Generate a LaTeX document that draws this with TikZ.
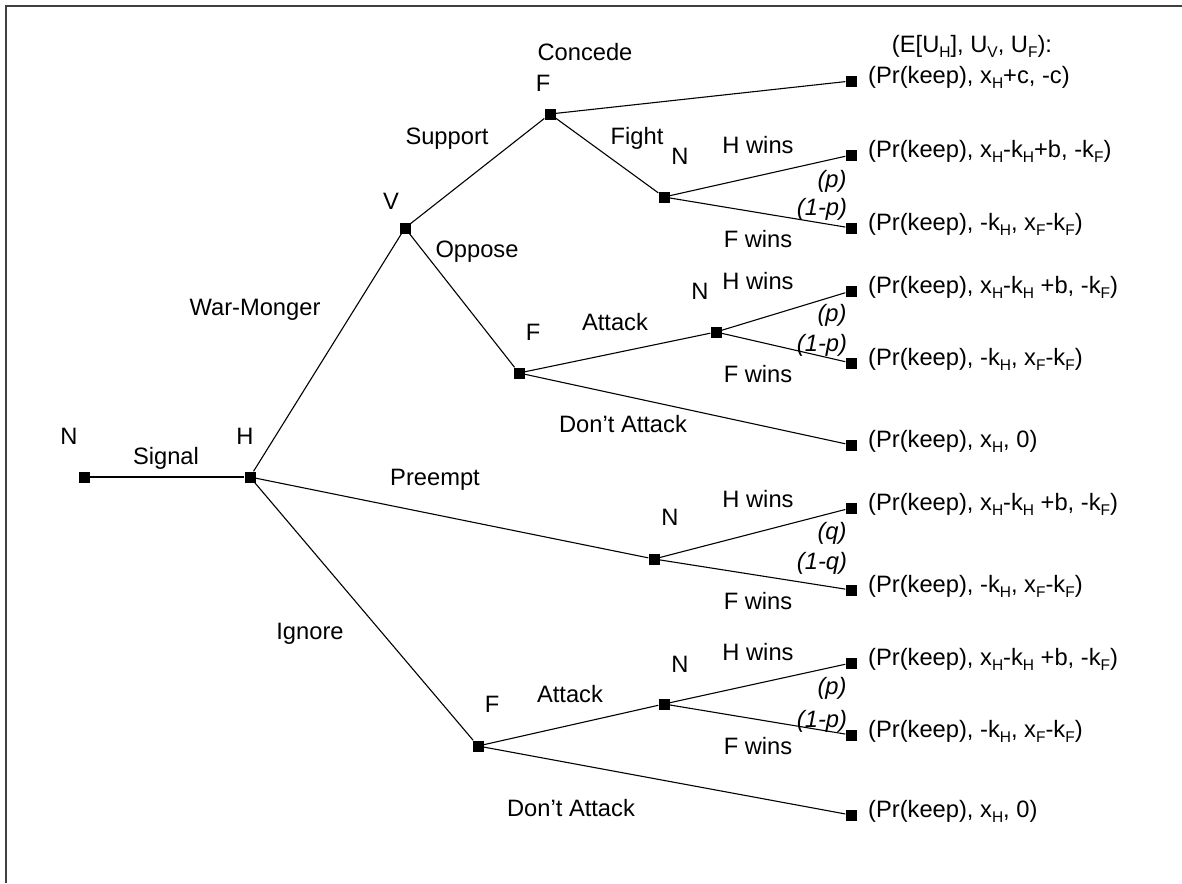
\documentclass[tikz,border=0pt]{standalone}
\usepackage{fontspec}
\setmainfont{Liberation Sans}
\newcommand\sbx[1]{\raisebox{-5pt}{\fontsize{15.5}{16}\selectfont #1}}
\begin{document}
\begin{tikzpicture}[x=1pt,y=-1pt,
  dec/.style={rectangle,fill=black,draw=none,minimum size=11pt,inner sep=0pt},
  lbl/.style={inner sep=0pt,font=\fontsize{23.7}{28}\selectfont,text height=0.73em,text depth=0.21em},
  pr/.style={lbl,font=\fontsize{23.7}{28}\selectfont\itshape},
  pay/.style={lbl,anchor=west},
  edge/.style={line width=1.1pt,draw=black}]
\useasboundingbox (0,0) rectangle (1182,883);
\draw[line width=2pt,draw=black!75] (1182,6) -- (6,6) -- (6,883);
% decision nodes
\node[dec] (n0) at (84,477) {};
\node[dec] (h)  at (250,477) {};
\node[dec] (v)  at (405,228) {};
\node[dec] (fs) at (550,114) {};
\node[dec] (nf) at (664,197) {};
\node[dec] (fo) at (519,373) {};
\node[dec] (no) at (716,332) {};
\node[dec] (np) at (654,559) {};
\node[dec] (fi) at (478,746) {};
\node[dec] (ni) at (664,704) {};
% terminals
\node[dec] (t1)  at (851,81) {};
\node[dec] (t2)  at (851,155) {};
\node[dec] (t3)  at (851,228) {};
\node[dec] (t4)  at (851,291) {};
\node[dec] (t5)  at (851,363) {};
\node[dec] (t6)  at (851,445) {};
\node[dec] (t7)  at (851,508) {};
\node[dec] (t8)  at (851,590) {};
\node[dec] (t9)  at (851,663) {};
\node[dec] (t10) at (851,735) {};
\node[dec] (t11) at (851,815) {};
% edges
\draw[edge] (n0) -- (h);
\draw[edge] (h) -- (v);
\draw[edge] (h) -- (np);
\draw[edge] (h) -- (fi);
\draw[edge] (v) -- (fs);
\draw[edge] (v) -- (fo);
\draw[edge] (fs) -- (t1);
\draw[edge] (fs) -- (nf);
\draw[edge] (nf) -- (t2);
\draw[edge] (nf) -- (t3);
\draw[edge] (fo) -- (no);
\draw[edge] (fo) -- (t6);
\draw[edge] (no) -- (t4);
\draw[edge] (no) -- (t5);
\draw[edge] (np) -- (t7);
\draw[edge] (np) -- (t8);
\draw[edge] (fi) -- (ni);
\draw[edge] (fi) -- (t11);
\draw[edge] (ni) -- (t9);
\draw[edge] (ni) -- (t10);
% player labels
\node[lbl] (ln0) at (69,442) {N};
\node[lbl] (lh)  at (245,442) {H};
\node[lbl] (lv)  at (391,207) {V};
\node[lbl] (lfs) at (543,89) {F};
\node[lbl] (lnf) at (680,162) {N};
\node[lbl] (lfo) at (533,338) {F};
\node[lbl] (lno) at (700,297) {N};
\node[lbl] (lnp) at (670,523) {N};
\node[lbl] (lfi) at (492,710) {F};
\node[lbl] (lni) at (680,670) {N};
% action labels
\node[lbl] (a1) at (166,462) {Signal};
\node[lbl] (a2) at (255,313) {War-Monger};
\node[lbl] (a3) at (447,142) {Support};
\node[lbl] (a4) at (585,58) {Concede};
\node[lbl] (a5) at (637,142) {Fight};
\node[lbl] (a6) at (477,255) {Oppose};
\node[lbl] (a7) at (615,328) {Attack};
\node[lbl] (a8) at (623,430) {Don’t Attack};
\node[lbl] (a9) at (435,483) {Preempt};
\node[lbl] (a10) at (310,637) {Ignore};
\node[lbl] (a11) at (570,700) {Attack};
\node[lbl] (a12) at (571,814) {Don’t Attack};
% chance labels
\node[lbl] (w1) at (758,151) {H wins};
\node[pr]  (p1) at (832,185) {(p)};
\node[pr]  (q1) at (822,213) {(1-p)};
\node[lbl] (f1) at (758,245) {F wins};
\node[lbl] (w2) at (758,287) {H wins};
\node[pr]  (p2) at (832,319) {(p)};
\node[pr]  (q2) at (822,349) {(1-p)};
\node[lbl] (f2) at (758,380) {F wins};
\node[lbl] (w3) at (758,505) {H wins};
\node[pr]  (p3) at (832,537) {(q)};
\node[pr]  (q3) at (822,567) {(1-q)};
\node[lbl] (f3) at (758,607) {F wins};
\node[lbl] (w4) at (758,658) {H wins};
\node[pr]  (p4) at (832,692) {(p)};
\node[pr]  (q4) at (822,725) {(1-p)};
\node[lbl] (f4) at (758,752) {F wins};
% payoffs
\node[lbl] (hdr) at (972,50) {(E[U\sbx{H}], U\sbx{V}, U\sbx{F}):};
\node[pay] (y1)  at (868,81)  {(Pr(keep), x\sbx{H}+c, -c)};
\node[pay] (y2)  at (868,155) {(Pr(keep), x\sbx{H}-k\sbx{H}+b, -k\sbx{F})};
\node[pay] (y3)  at (868,228) {(Pr(keep), -k\sbx{H}, x\sbx{F}-k\sbx{F})};
\node[pay] (y4)  at (868,291) {(Pr(keep), x\sbx{H}-k\sbx{H} +b, -k\sbx{F})};
\node[pay] (y5)  at (868,363) {(Pr(keep), -k\sbx{H}, x\sbx{F}-k\sbx{F})};
\node[pay] (y6)  at (868,445) {(Pr(keep), x\sbx{H}, 0)};
\node[pay] (y7)  at (868,508) {(Pr(keep), x\sbx{H}-k\sbx{H} +b, -k\sbx{F})};
\node[pay] (y8)  at (868,590) {(Pr(keep), -k\sbx{H}, x\sbx{F}-k\sbx{F})};
\node[pay] (y9)  at (868,663) {(Pr(keep), x\sbx{H}-k\sbx{H} +b, -k\sbx{F})};
\node[pay] (y10) at (868,735) {(Pr(keep), -k\sbx{H}, x\sbx{F}-k\sbx{F})};
\node[pay] (y11) at (868,815) {(Pr(keep), x\sbx{H}, 0)};
\end{tikzpicture}
\end{document}
